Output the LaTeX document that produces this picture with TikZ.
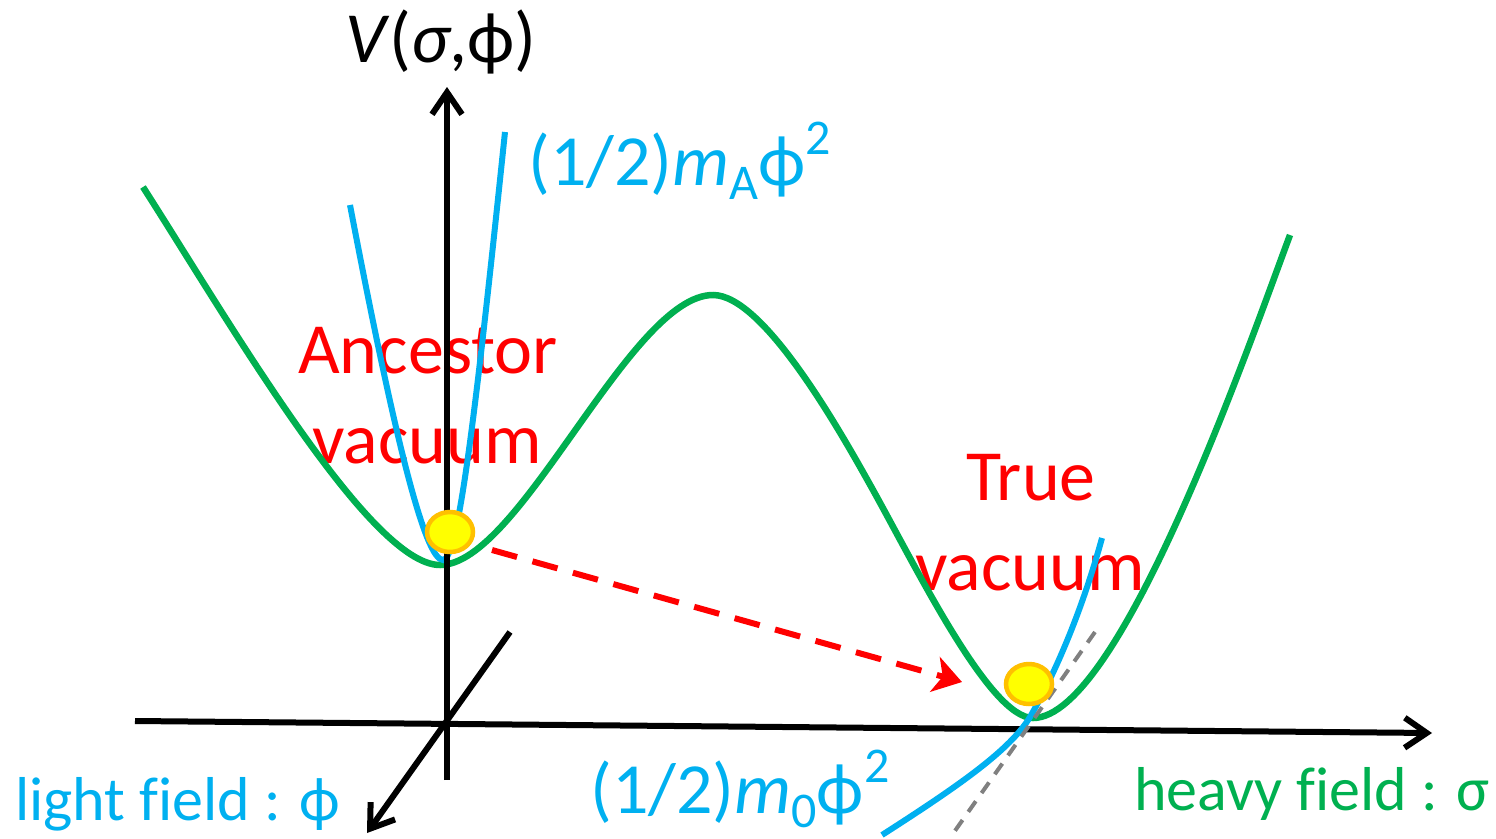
\documentclass[tikz,border=0pt]{standalone}
\usepackage{fontspec}
\setmainfont{Carlito}[Ligatures=CommonOff]
\usetikzlibrary{arrows.meta,shapes.geometric}
\definecolor{hvgreen}{HTML}{00B050}
\definecolor{ltblue}{HTML}{00B0F0}
\definecolor{vacred}{HTML}{FF0000}
\definecolor{ballyel}{HTML}{FFFF00}
\definecolor{ballrim}{HTML}{FFC000}
\definecolor{tangray}{HTML}{808080}
\newcommand{\lowsub}[1]{\raisebox{-0.2em}{\fontsize{50}{50}\selectfont #1}}
\newcommand{\highsup}[1]{\raisebox{0.42em}{\fontsize{50}{50}\selectfont #1}}

\begin{document}
\begin{tikzpicture}[x=1pt,y=-1pt,
  axis/.style={line width=6pt,-{Straight Barb[length=22pt,width=30pt]}},
  big/.style={inner sep=0pt,font=\fontsize{72}{80}\selectfont},
  small/.style={inner sep=0pt,font=\fontsize{62}{70}\selectfont},
  ball/.style={ellipse,draw=ballrim,fill=ballyel,line width=4.5pt,minimum width=46pt,minimum height=40pt,inner sep=0pt}]
\useasboundingbox (0,0) rectangle (1496,838);
% labels of the two vacua
\node[big,text=vacred,anchor=base] (ancA) at (428,373) {Ancestor};
\node[big,text=vacred,anchor=base] (ancB) at (427,463) {vacuum};
\node[big,text=vacred,anchor=base] (trueA) at (1031,500) {True};
\node[big,text=vacred,anchor=base] (trueB) at (1030,590) {vacuum};
% axis labels
\node[big,anchor=base] (vlab) at (441,62) {\textit{V}(\textit{σ},ϕ)};
\node[big,text=ltblue,anchor=base west] (mAlab) at (528,185) {(1/2)\textit{m}\lowsub{A}ϕ\highsup{2}};
\node[big,text=ltblue,anchor=base west] (m0lab) at (590,813) {(1/2)\textit{m}\lowsub{0}ϕ\highsup{2}};
\node[small,text=ltblue,anchor=base west] (philab) at (15,820) {light field : ϕ};
\node[small,text=hvgreen,anchor=base east] (siglab) at (1490,810) {heavy field : σ};
% axes
\coordinate (O) at (447,724);
\coordinate (sigL) at (135,721);
\coordinate (sigR) at (1432,733);
\coordinate (phiB) at (510,632);
\coordinate (phiF) at (367,833);
\coordinate (vB) at (447,780);
\coordinate (vT) at (447,87);
\draw[axis] (sigL) -- (sigR);
\draw[axis] (phiB) -- (phiF);
% double well in sigma
\draw[hvgreen,line width=6.5pt] (143,187) .. controls (230,323) and (370,565) .. (440,565)
  .. controls (520,565) and (630,295) .. (713,295)
  .. controls (763,295) and (838,427) .. (873,490)
  .. controls (918,571) and (990,718) .. (1033,718)
  .. controls (1120,718) and (1250,342) .. (1290,235);
% phi-parabolas at the two minima
\draw[ltblue,line width=6pt] (350,205) .. controls (395,440) and (425,560) .. (443,560) .. controls (458,560) and (475,420) .. (505,132);
\draw[ltblue,line width=6pt] (882,835) .. controls (960,785) and (1010,750) .. (1030,717) .. controls (1060,665) and (1085,600) .. (1102,538);
\coordinate (tanT) at (1095,632);
\coordinate (tanB) at (952,835);
\draw[tangray,line width=4pt,dash pattern=on 13pt off 10pt] (tanT) -- (tanB);
\draw[axis] (vB) -- (vT);
% vacua and the decay
\node[ball] (ballA) at (450,532) {};
\node[ball] (ballB) at (1029,684) {};
\coordinate (jumpS) at (492,550);
\coordinate (jumpE) at (962,682);
\draw[vacred,line width=6pt,dash pattern=on 26pt off 16pt,-{Stealth[length=28pt,width=36pt,inset=8pt]}] (jumpS) -- (jumpE);
\end{tikzpicture}
\end{document}
